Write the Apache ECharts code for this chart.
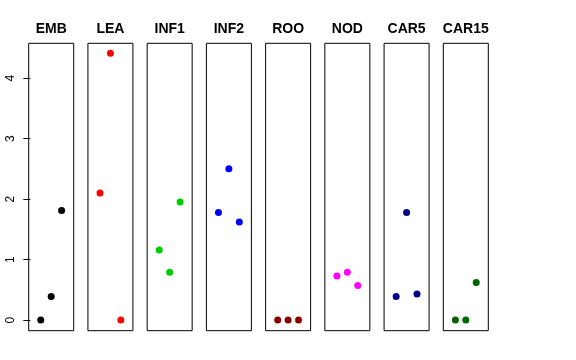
<!DOCTYPE html>
<html>
<head>
<meta charset="utf-8">
<script src="https://cdn.jsdelivr.net/npm/echarts@6/dist/echarts.min.js"></script>
<style>html,body{margin:0;padding:0;background:#fff}#c{width:576px;height:360px}</style>
</head>
<body>
<div id="c"></div>
<script>
const panels = ['EMB','LEA','INF1','INF2','ROO','NOD','CAR5','CAR15'];
const colors = ['#000000','#FF0000','#00CD00','#0000FF','#8B0000','#FF00FF','#000080','#006400'];
const xPos = [1, 2, 3];
const EMB = [0, 0.39, 1.81];
const LEA = [2.10, 4.41, 0];
const INF1 = [1.16, 0.79, 1.95];
const INF2 = [1.78, 2.50, 1.62];
const ROO = [0, 0, 0];
const NOD = [0.73, 0.79, 0.57];
const CAR5 = [0.39, 1.78, 0.43];
const CAR15 = [0, 0, 0.62];
const yTicks = [0, 1, 2, 3, 4];
const values = [EMB, LEA, INF1, INF2, ROO, NOD, CAR5, CAR15];

const chart = echarts.init(document.getElementById('c'), null, {renderer: 'canvas'});
const gLeft0 = 28.7, gStep = 59.23, gW = 45, gTop = 43.3, gH = 287.4;
const grids = [], xAxes = [], yAxes = [], series = [], titles = [];
panels.forEach((p, i) => {
  const l = gLeft0 + i * gStep;
  grids.push({left: l, top: gTop, width: gW, height: gH, show: true, borderColor: '#000', borderWidth: 1, backgroundColor: 'transparent'});
  xAxes.push({gridIndex: i, type: 'value', min: -0.16, max: 4.16, show: false});
  yAxes.push({
    gridIndex: i, type: 'value', min: -0.176, max: 4.576,
    splitLine: {show: false},
    axisLine: {show: false},
    axisTick: {show: i === 0, length: 7, lineStyle: {color: '#000'}, customValues: yTicks},
    axisLabel: {show: i === 0, rotate: 90, margin: 12, color: '#000', fontSize: 12, fontFamily: 'Liberation Sans', customValues: yTicks}
  });
  series.push({
    type: 'scatter', xAxisIndex: i, yAxisIndex: i,
    symbolSize: 7, itemStyle: {color: colors[i], opacity: 1},
    data: xPos.map((x, k) => [x, values[i][k]]),
    silent: true, animation: false
  });
  titles.push({text: p, left: l + gW / 2, top: 22, textAlign: 'center', padding: 0,
    textStyle: {fontSize: 14, fontWeight: 'bold', color: '#000', fontFamily: 'Liberation Sans'}});
});
chart.setOption({animation: false, title: titles, grid: grids, xAxis: xAxes, yAxis: yAxes, series: series});
</script>
</body>
</html>
